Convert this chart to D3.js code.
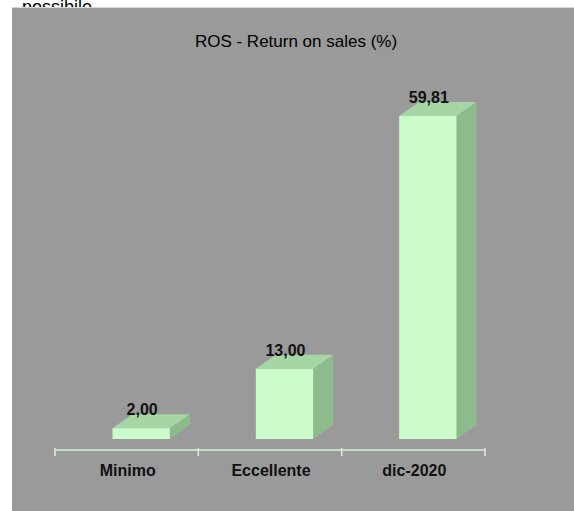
<!DOCTYPE html>
<html><head><meta charset="utf-8">
<script src="https://cdn.jsdelivr.net/npm/d3@7"></script>
<style>body{margin:0;background:#fff;}svg{display:block;}</style>
</head><body>
<svg id="c" width="574" height="511"></svg>
<script>
const categories = ["Minimo", "Eccellente", "dic-2020"];
const values = [2.00, 13.00, 59.81];
const valueLabels = ["2,00", "13,00", "59,81"];
const title = "ROS - Return on sales (%)";

const svg = d3.select("#c");
const font = "'Liberation Sans', Arial, sans-serif";

// cut-off text above the chart area
svg.append("text").attr("x", 22).attr("y", 13).attr("font-family", font)
  .attr("font-size", 18).attr("fill", "#000").text("possibile");

svg.append("rect").attr("x", 12).attr("y", 7).attr("width", 562).attr("height", 1).attr("fill", "#d8d8d8");
svg.append("rect").attr("x", 12).attr("y", 8).attr("width", 562).attr("height", 503).attr("fill", "#9a9a9a");

svg.append("text").attr("x", 296).attr("y", 47).attr("text-anchor", "middle")
  .attr("font-family", font).attr("font-size", 17).attr("fill", "#000").text(title);

const x = d3.scaleBand().domain(categories).range([55, 485]).padding(0);
const y = d3.scaleLinear().domain([0, 60]).range([439, 115]);
const axisY = 450;
const shiftX = 14.5, shiftY = -10;   // bar placement in floor depth
const dX = 20, dY = -14;             // bar depth
const barW = x.bandwidth() * 0.4;

// axis line & ticks
const tickXs = categories.map(c => x(c)).concat([x.range()[1]]);
svg.append("line").attr("x1", x.range()[0]).attr("x2", x.range()[1])
  .attr("y1", axisY).attr("y2", axisY).attr("stroke", "#d6eed6").attr("stroke-width", 1.6);
svg.selectAll("line.tick").data(tickXs).join("line").attr("class", "tick")
  .attr("x1", d => d).attr("x2", d => d).attr("y1", axisY - 2).attr("y2", axisY + 6)
  .attr("stroke", "#d6eed6").attr("stroke-width", 1.6);

const g = svg.selectAll("g.bar").data(categories.map((c, i) => ({c, v: values[i], l: valueLabels[i]})))
  .join("g").attr("class", "bar");

const x0 = d => x(d.c) + x.bandwidth() / 2 - barW / 2 + shiftX;
const base = y(0);
// side face
g.append("path").attr("fill", "#8dbb8d").attr("d", d => {
  const xl = x0(d) + barW, yt = y(d.v);
  return `M${xl},${yt}L${xl + dX},${yt + dY}L${xl + dX},${base + dY}L${xl},${base}Z`;
});
// top face
g.append("path").attr("fill", "#a6d6a6").attr("d", d => {
  const xl = x0(d), yt = y(d.v);
  return `M${xl},${yt}L${xl + dX},${yt + dY}L${xl + barW + dX},${yt + dY}L${xl + barW},${yt}Z`;
});
// front face
g.append("rect").attr("fill", "#ccfccc")
  .attr("x", d => x0(d)).attr("y", d => y(d.v))
  .attr("width", barW).attr("height", d => base - y(d.v));
// value labels
g.append("text").attr("x", d => x0(d) + barW / 2 + 1).attr("y", d => y(d.v) + dY + 1)
  .attr("text-anchor", "middle").attr("font-family", font).attr("font-size", 16)
  .attr("font-weight", "bold").attr("fill", "#111").text(d => d.l);

// category labels
svg.selectAll("text.cat").data(categories).join("text").attr("class", "cat")
  .attr("x", d => x(d) + x.bandwidth() / 2 + 1).attr("y", 476).attr("text-anchor", "middle")
  .attr("font-family", font).attr("font-size", 16).attr("font-weight", "bold")
  .attr("fill", "#111").text(d => d);
</script>
</body></html>
